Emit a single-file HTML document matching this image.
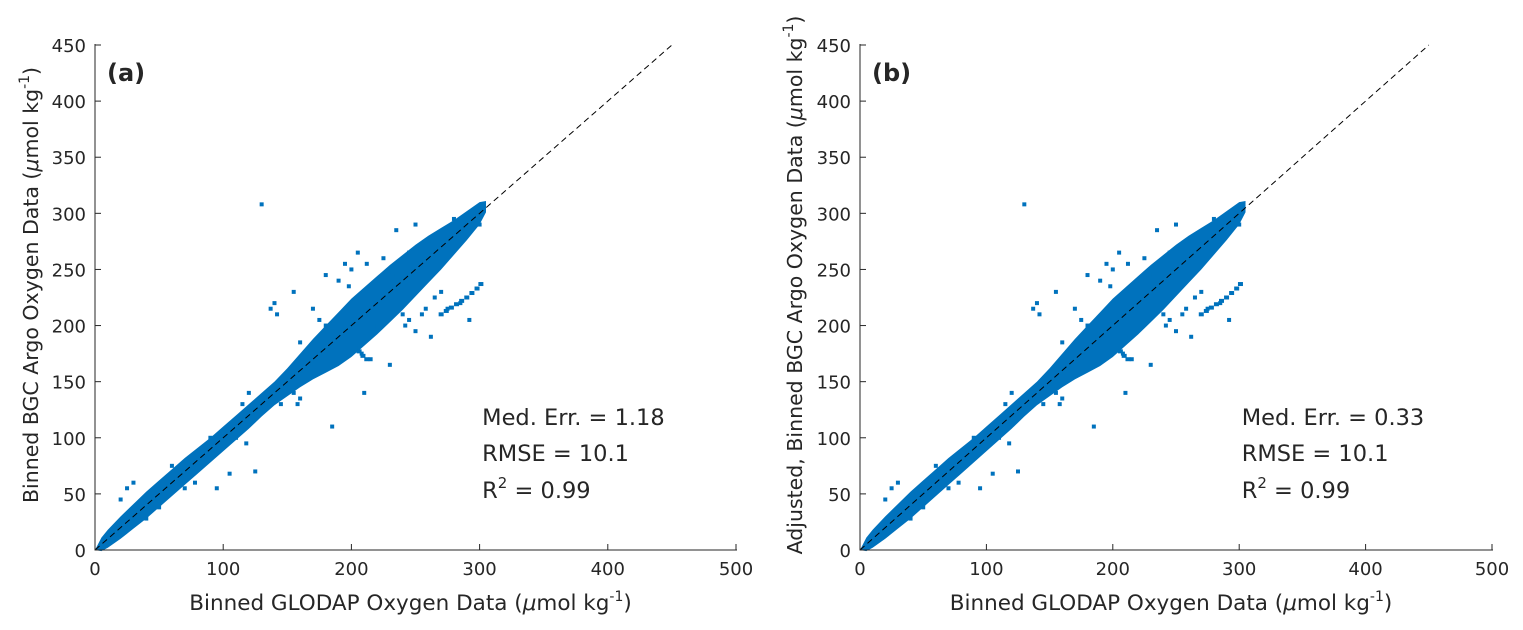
<!DOCTYPE html>
<html><head><meta charset="utf-8"><style>
html,body{margin:0;padding:0;background:#fff;width:1523px;height:630px;overflow:hidden}
text{font-family:"DejaVu Sans","Liberation Sans",sans-serif;fill:#262626}
</style></head><body>
<svg id="chart" width="1523" height="630" xmlns="http://www.w3.org/2000/svg"></svg>
<script>
// Data (µmol/kg)
const xTicks = [0,100,200,300,400,500];
const yTicks = [0,50,100,150,200,250,300,350,400,450];
// main dense band: x centre, lower and upper vertical deviation from 1:1 line
const bandX  = [0,5,10,20,30,40,50,60,70,80,90,100,110,120,130,140,150,160,170,180,190,200,210,220,230,240,250,260,270,280,290,300,305];
const bandLo = [0,6,8,10,11,12,12,12,12,12,12,12,12,12,11,11,13,15,18,22,26,28,28,28,27,26,24,22,20,17,14,10,4];
const bandHi = [0,6,8,10,11,12,12,12,12,11,10,10,10,10,10,10,12,15,18,20,22,24,24,24,24,23,22,20,17,14,12,10,6];
// scattered outliers
const outX = [140,137,142,155,170,175,180,185,178,190,160,165,150,158,210,220,230,240,245,250,255,258,262,265,270,275,285,292,300,130,125,105,95,85,90,30,25,20,45,60,115,120,200,212,225,245,190,180,195,205,260,235,250,280,300,302,150,160,185,210,232,238,242,215,208,198,155,145,70,78,110,118,40,50];
const outY = [220,215,210,230,215,205,200,195,180,170,185,175,145,130,140,200,165,210,205,195,210,215,190,225,230,215,220,205,300,308,70,68,55,83,100,60,55,45,50,75,130,140,250,255,260,265,240,245,255,265,275,285,290,295,290,305,155,135,110,190,245,240,200,170,175,235,140,130,55,60,100,95,28,38];
// curved artefact arcs
const arcX = [270,274,278,282,286,290,294,298,301, 203,206,209,212];
const arcY = [210,213,216,219,222,225,229,233,237, 180,177,173,170];
// annotation values
const statsA = ["Med. Err. = 1.18","RMSE = 10.1","0.99"];
const statsB = ["Med. Err. = 0.33","RMSE = 10.1","0.99"];

const svg = document.getElementById('chart');
const NS = 'http://www.w3.org/2000/svg';
function mk(tag, attrs, parent){const e=document.createElementNS(NS,tag);for(const k in attrs)e.setAttribute(k,attrs[k]);(parent||svg).appendChild(e);return e;}

function panel(id, x0, x500, ylabel, ylabX, letter, stats){
  const y0=550, y450=45;
  const sx=v=>x0+(x500-x0)*v/500;
  const sy=v=>y0-(y0-y450)*v/450;
  const g=mk('g',{});
  
  
  const C='#0072BD';
  const bg=mk('g',{fill:C},g);
  
  
  let pts=[];
  for(let i=0;i<bandX.length;i++) pts.push(sx(bandX[i])+','+sy(bandX[i]+bandHi[i]));
  for(let i=bandX.length-1;i>=0;i--) pts.push(sx(bandX[i])+','+sy(bandX[i]-bandLo[i]));
  const band=mk('polygon',{points:pts.join(' ')},bg);
  
  
  for(let i=0;i<outX.length;i++){
    const r=mk('rect',{x:sx(outX[i])-2,y:sy(outY[i])-2,width:4,height:4},bg);
    
    
  }
  for(let i=0;i<arcX.length;i++){
    const r=mk('rect',{x:sx(arcX[i])-2.5,y:sy(arcY[i])-2,width:5,height:4},bg);
    
    
  }
  const dl=mk('line',{x1:sx(0),y1:sy(0),x2:sx(450),y2:sy(450),stroke:'#000','stroke-width':1,'stroke-dasharray':'6,4'},g);
  
  
  const ax=mk('path',{d:`M${x0},${y450-1}V${y0}H${x500+1}`,stroke:'#262626',fill:'none','stroke-width':1},g);
  
  
  xTicks.forEach(v=>{
    mk('line',{x1:sx(v),x2:sx(v),y1:y0,y2:y0-6,stroke:'#262626'},g);
    const t=mk('text',{x:sx(v),y:y0+25,'text-anchor':'middle','font-size':18},g);t.textContent=v;
    
    
  });
  yTicks.forEach(v=>{
    mk('line',{x1:x0,x2:x0+6,y1:sy(v),y2:sy(v),stroke:'#262626'},g);
    const t=mk('text',{x:x0-9,y:sy(v)+7,'text-anchor':'end','font-size':18},g);t.textContent=v;
    
    
  });
  const xl=mk('text',{x:(x0+x500)/2-5,y:610,'text-anchor':'middle','font-size':21.5},g);
  xl.innerHTML='Binned GLODAP Oxygen Data (<tspan font-style="italic">μ</tspan>mol kg<tspan dy="-9" font-size="14">-1</tspan><tspan dy="9">)</tspan>';
  
  
  const yl=mk('text',{x:0,y:0,'text-anchor':'middle','font-size':20.5,transform:`translate(${ylabX},285) rotate(-90)`},g);
  yl.innerHTML=ylabel+' (<tspan font-style="italic">μ</tspan>mol kg<tspan dy="-9" font-size="14">-1</tspan><tspan dy="9">)</tspan>';
  
  
  const pl=mk('text',{x:x0+12,y:81,'font-size':24,'font-weight':'bold',fill:'#000'},g);pl.textContent=letter;
  
  
  const tx=sx(302);
  const s1=mk('text',{x:tx,y:425,'font-size':22.5,fill:'#000'},g);s1.textContent=stats[0];
  
  
  const s2=mk('text',{x:tx,y:461,'font-size':22.5,fill:'#000'},g);s2.textContent=stats[1];
  
  
  const s3=mk('text',{x:tx,y:498,'font-size':22.5,fill:'#000'},g);
  s3.innerHTML='R<tspan dy="-10" font-size="15">2</tspan><tspan dy="10"> = '+stats[2]+'</tspan>';
  
  
}
panel('a',95,736,'Binned BGC Argo Oxygen Data',38,'(a)',statsA);
panel('b',860,1492,'Adjusted, Binned BGC Argo Oxygen Data',802,'(b)',statsB);
</script>
</body></html>
